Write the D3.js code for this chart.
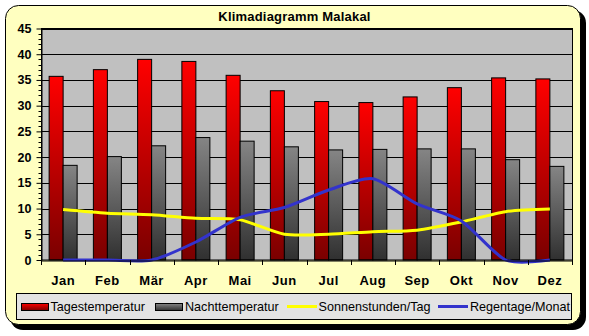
<!DOCTYPE html>
<html><head><meta charset="utf-8">
<script src="https://cdn.jsdelivr.net/npm/d3@7"></script>
<style>html,body{margin:0;padding:0;background:#fff;}svg{display:block;font-family:"Liberation Sans",Arial,sans-serif;}</style>
</head><body>
<script>
const months = ["Jan","Feb","Mär","Apr","Mai","Jun","Jul","Aug","Sep","Okt","Nov","Dez"];
const tagesTemp = [35.7, 37.0, 39.0, 38.6, 35.9, 32.9, 30.8, 30.6, 31.7, 33.5, 35.4, 35.2];
const nachtTemp = [18.4, 20.1, 22.2, 23.8, 23.1, 22.0, 21.4, 21.5, 21.6, 21.6, 19.5, 18.2];
const sonnenstunden = [9.8, 9.1, 8.8, 8.1, 7.8, 5.0, 5.0, 5.5, 5.8, 7.4, 9.4, 9.9];
const regentage = [0, 0, 0, 3.5, 8.3, 10.2, 13.6, 15.8, 10.9, 7.6, 0, 0];
const yTicks = [0, 5, 10, 15, 20, 25, 30, 35, 40, 45];
const title = "Klimadiagramm Malakal";
const legendLabels = ["Tagestemperatur", "Nachttemperatur", "Sonnenstunden/Tag", "Regentage/Monat"];

const W = 589, H = 336;
const svg = d3.select("body").append("svg").attr("width", W).attr("height", H);
const defs = svg.append("defs");

function grad(id, c1, c2) {
  const g = defs.append("linearGradient").attr("id", id).attr("x1", 0).attr("y1", 0).attr("x2", 0).attr("y2", 1);
  g.append("stop").attr("offset", "0%").attr("stop-color", c1);
  g.append("stop").attr("offset", "100%").attr("stop-color", c2);
}
grad("gRed", "#ff0000", "#7a0000");
grad("gGray", "#858585", "#303030");

// frame with shadow
svg.append("rect").attr("x", 10).attr("y", 10).attr("width", 576).attr("height", 320).attr("rx", 13).attr("fill", "#000");
svg.append("rect").attr("x", 5.5).attr("y", 5.5).attr("width", 575).attr("height", 319).attr("rx", 13)
  .attr("fill", "#ffffc0").attr("stroke", "#000").attr("stroke-width", 1);

svg.append("text").attr("x", 294.5).attr("y", 21).attr("text-anchor", "middle")
  .attr("font-weight", "bold").attr("font-size", 13).attr("letter-spacing", 0.2).text(title);

const L = 41, R = 572, T = 28.5, B = 260;
const x = d3.scaleBand().domain(months).range([L, R]).padding(0);
const sub = d3.scaleBand().domain(["t", "n"]).range([0, x.bandwidth()]).paddingInner(0).paddingOuter(0.58);
const y = d3.scaleLinear().domain([0, 45]).range([B, T]);

// plot background
svg.append("rect").attr("x", L).attr("y", T).attr("width", R - L).attr("height", B - T).attr("fill", "#c0c0c0");

// gridlines
svg.append("g").selectAll("line").data(yTicks.filter(d => d > 0)).join("line")
  .attr("x1", L).attr("x2", R).attr("y1", d => Math.round(y(d)) + 0.5).attr("y2", d => Math.round(y(d)) + 0.5)
  .attr("stroke", "#000").attr("stroke-width", 1);

// bars
const bars = svg.append("g");
bars.selectAll("rect.t").data(tagesTemp).join("rect").attr("class", "t")
  .attr("x", (d, i) => x(months[i]) + sub("t")).attr("width", sub.bandwidth())
  .attr("y", d => y(d)).attr("height", d => y(0) - y(d))
  .attr("fill", "url(#gRed)").attr("stroke", "#000").attr("stroke-width", 1);
bars.selectAll("rect.n").data(nachtTemp).join("rect").attr("class", "n")
  .attr("x", (d, i) => x(months[i]) + sub("n")).attr("width", sub.bandwidth())
  .attr("y", d => y(d)).attr("height", d => y(0) - y(d))
  .attr("fill", "url(#gGray)").attr("stroke", "#000").attr("stroke-width", 1);

// plot border
svg.append("rect").attr("x", L + 0.5).attr("y", T).attr("width", R - L).attr("height", B - T)
  .attr("fill", "none").attr("stroke", "#000").attr("stroke-width", 1);

// lines
const cx = i => x(months[i]) + x.bandwidth() / 2;
const lineGen = d3.line().x((d, i) => cx(i)).y(d => y(d)).curve(d3.curveCardinal.tension(0.25));
svg.append("path").datum(sonnenstunden).attr("d", lineGen).attr("fill", "none").attr("stroke", "#ffff00").attr("stroke-width", 3);
svg.append("path").datum(regentage).attr("d", lineGen).attr("fill", "none").attr("stroke", "#3333cc").attr("stroke-width", 3);

// y axis
const yAxis = svg.append("g").attr("transform", `translate(${L + 0.5},0)`)
  .call(d3.axisLeft(y).tickValues(yTicks).tickSize(5).tickSizeOuter(0).tickPadding(5).tickFormat(d3.format("d")));
yAxis.select(".domain").attr("stroke", "#000");
yAxis.selectAll("text").attr("font-weight", "bold").attr("font-size", 12.5).attr("fill", "#000")
  .attr("font-family", "'Liberation Sans',Arial,sans-serif");
const minor = d3.range(0, 46).filter(d => d % 5 !== 0);
svg.append("g").attr("transform", `translate(${L + 0.5},0)`).selectAll("line").data(minor).join("line")
  .attr("x1", -3).attr("x2", 0).attr("y1", d => Math.round(y(d)) + 0.5).attr("y2", d => Math.round(y(d)) + 0.5)
  .attr("stroke", "#000");

// x axis
const xAxis = svg.append("g").attr("transform", `translate(0,${B + 0.5})`)
  .call(d3.axisBottom(x).tickSize(0).tickPadding(15));
xAxis.select(".domain").attr("stroke", "#000");
xAxis.selectAll("text").attr("font-weight", "bold").attr("font-size", 13).attr("fill", "#000")
  .attr("letter-spacing", 0.5)
  .attr("font-family", "'Liberation Sans',Arial,sans-serif");
const bounds = months.map(m => x(m)).concat([R]);
svg.append("g").selectAll("line").data(bounds).join("line")
  .attr("x1", d => Math.round(d) + 0.5).attr("x2", d => Math.round(d) + 0.5).attr("y1", B).attr("y2", B + 5)
  .attr("stroke", "#000");

// legend
const lg = svg.append("g");
defs.append("clipPath").attr("id", "lclip").append("rect").attr("x", 16).attr("y", 293).attr("width", 556).attr("height", 27);
lg.append("rect").attr("x", 16.5).attr("y", 293.5).attr("width", 555).attr("height", 26)
  .attr("fill", "#e3e3e3").attr("stroke", "#000");
const lgi = lg.append("g").attr("clip-path", "url(#lclip)");
const swX = [21, 155, 287, 438];
const txX = [50.5, 185, 318.5, 470];
const kinds = ["gRed", "gGray", "#ffff00", "#3333cc"];
legendLabels.forEach((lab, i) => {
  if (i < 2) {
    lgi.append("rect").attr("x", swX[i] + 0.5).attr("y", 303.5).attr("width", 27).attr("height", 7)
      .attr("fill", `url(#${kinds[i]})`).attr("stroke", "#000");
  } else {
    lgi.append("line").attr("x1", swX[i]).attr("x2", swX[i] + 30).attr("y1", 306.5).attr("y2", 306.5)
      .attr("stroke", kinds[i]).attr("stroke-width", 3);
  }
  lgi.append("text").attr("x", txX[i]).attr("y", 311).attr("font-size", 12.6).attr("fill", "#000").text(lab);
});
</script>
</body></html>
